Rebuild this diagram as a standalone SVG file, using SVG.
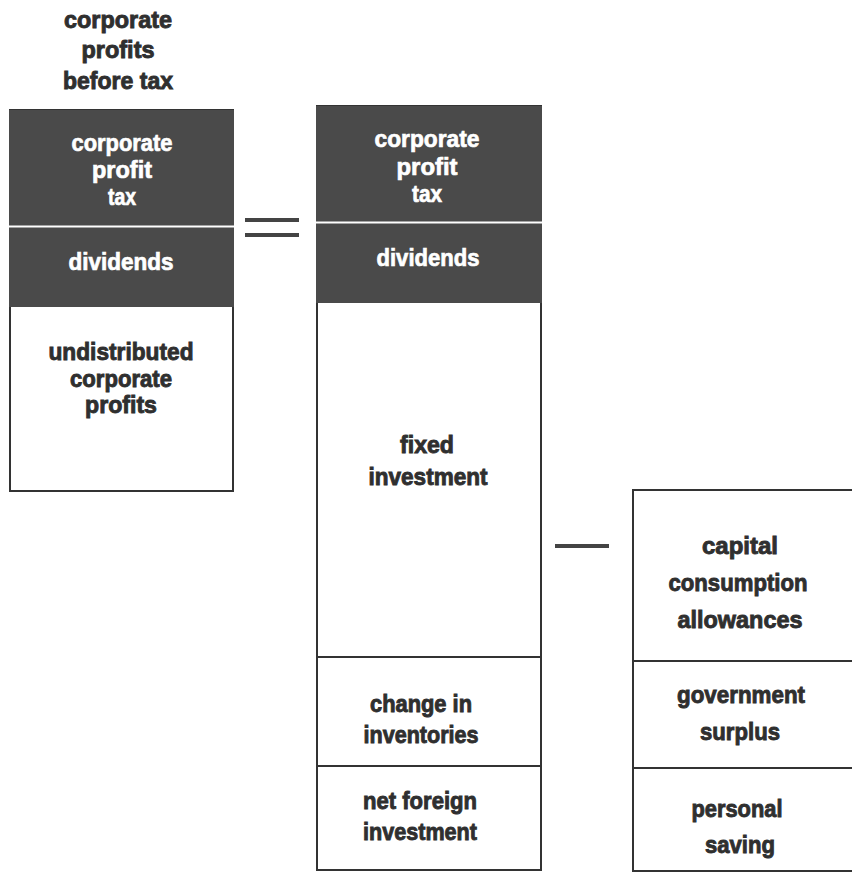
<svg xmlns="http://www.w3.org/2000/svg" width="852" height="873" viewBox="0 0 852 873">
<style>
  text { font-family: "Liberation Sans", Arial, sans-serif; font-weight: bold; font-size: 24px; text-anchor: middle; }
  .dk { fill: #2f2f2f; stroke: #2f2f2f; stroke-width: 0.9; }
  .wt { fill: #ffffff; stroke: #ffffff; stroke-width: 0.7; }
  .panel { fill: #4a4a4a; }
  .box { fill: #ffffff; stroke: #333333; stroke-width: 2; }
  .sep { stroke: #ffffff; stroke-width: 2; }
  .div { stroke: #333333; stroke-width: 2; }
  .op { fill: #444444; }
</style>
<rect width="852" height="873" fill="#ffffff"/>

<g id="header">
  <text class="dk" x="118" y="28" textLength="108" lengthAdjust="spacingAndGlyphs">corporate</text>
  <text class="dk" x="118" y="58" textLength="73" lengthAdjust="spacingAndGlyphs">profits</text>
  <text class="dk" x="118" y="89" textLength="110" lengthAdjust="spacingAndGlyphs">before tax</text>
</g>

<g id="left-column">
  <rect class="box" x="10" y="110" width="223" height="381"/>
  <rect class="panel" x="9" y="110" width="225" height="197"/>
  <line class="sep" x1="9" y1="226.5" x2="234" y2="226.5"/>
  <g id="left-tax">
    <text class="wt" x="122" y="151" textLength="101" lengthAdjust="spacingAndGlyphs">corporate</text>
    <text class="wt" x="122" y="178" textLength="60" lengthAdjust="spacingAndGlyphs">profit</text>
    <text class="wt" x="122" y="205" textLength="28" lengthAdjust="spacingAndGlyphs">tax</text>
  </g>
  <g id="left-dividends">
    <text class="wt" x="121" y="270" textLength="105" lengthAdjust="spacingAndGlyphs">dividends</text>
  </g>
  <g id="left-undistributed">
    <text class="dk" x="121" y="360" textLength="145" lengthAdjust="spacingAndGlyphs">undistributed</text>
    <text class="dk" x="121" y="387" textLength="102" lengthAdjust="spacingAndGlyphs">corporate</text>
    <text class="dk" x="121" y="413" textLength="72" lengthAdjust="spacingAndGlyphs">profits</text>
  </g>
</g>

<g id="middle-column">
  <rect class="box" x="317" y="106" width="224" height="764"/>
  <rect class="panel" x="316" y="106" width="226" height="197"/>
  <line class="sep" x1="316" y1="222.5" x2="542" y2="222.5"/>
  <line class="div" x1="317" y1="657" x2="541" y2="657"/>
  <line class="div" x1="317" y1="766" x2="541" y2="766"/>
  <g id="mid-tax">
    <text class="wt" x="427" y="147" textLength="105" lengthAdjust="spacingAndGlyphs">corporate</text>
    <text class="wt" x="427" y="175" textLength="61" lengthAdjust="spacingAndGlyphs">profit</text>
    <text class="wt" x="427" y="202" textLength="30" lengthAdjust="spacingAndGlyphs">tax</text>
  </g>
  <g id="mid-dividends">
    <text class="wt" x="428" y="266" textLength="103" lengthAdjust="spacingAndGlyphs">dividends</text>
  </g>
  <g id="fixed-investment">
    <text class="dk" x="427" y="453" textLength="54" lengthAdjust="spacingAndGlyphs">fixed</text>
    <text class="dk" x="428" y="485" textLength="119" lengthAdjust="spacingAndGlyphs">investment</text>
  </g>
  <g id="change-in-inventories">
    <text class="dk" x="421" y="712" textLength="102" lengthAdjust="spacingAndGlyphs">change in</text>
    <text class="dk" x="421" y="743" textLength="115" lengthAdjust="spacingAndGlyphs">inventories</text>
  </g>
  <g id="net-foreign-investment">
    <text class="dk" x="420" y="809" textLength="114" lengthAdjust="spacingAndGlyphs">net foreign</text>
    <text class="dk" x="420" y="840" textLength="114" lengthAdjust="spacingAndGlyphs">investment</text>
  </g>
</g>

<g id="right-column">
  <rect class="box" x="633" y="490" width="240" height="381"/>
  <line class="div" x1="633" y1="661" x2="852" y2="661"/>
  <line class="div" x1="633" y1="768" x2="852" y2="768"/>
  <g id="capital-consumption-allowances">
    <text class="dk" x="740" y="554" textLength="76" lengthAdjust="spacingAndGlyphs">capital</text>
    <text class="dk" x="738" y="591" textLength="139" lengthAdjust="spacingAndGlyphs">consumption</text>
    <text class="dk" x="740" y="628" textLength="125" lengthAdjust="spacingAndGlyphs">allowances</text>
  </g>
  <g id="government-surplus">
    <text class="dk" x="741" y="703" textLength="128" lengthAdjust="spacingAndGlyphs">government</text>
    <text class="dk" x="740" y="740" textLength="80" lengthAdjust="spacingAndGlyphs">surplus</text>
  </g>
  <g id="personal-saving">
    <text class="dk" x="737" y="817" textLength="91" lengthAdjust="spacingAndGlyphs">personal</text>
    <text class="dk" x="740" y="853" textLength="70" lengthAdjust="spacingAndGlyphs">saving</text>
  </g>
</g>

<g id="operators">
  <rect class="op" x="245" y="218" width="54" height="4"/>
  <rect class="op" x="245" y="233" width="54" height="4"/>
  <rect class="op" x="555" y="544" width="54" height="4"/>
</g>
</svg>
